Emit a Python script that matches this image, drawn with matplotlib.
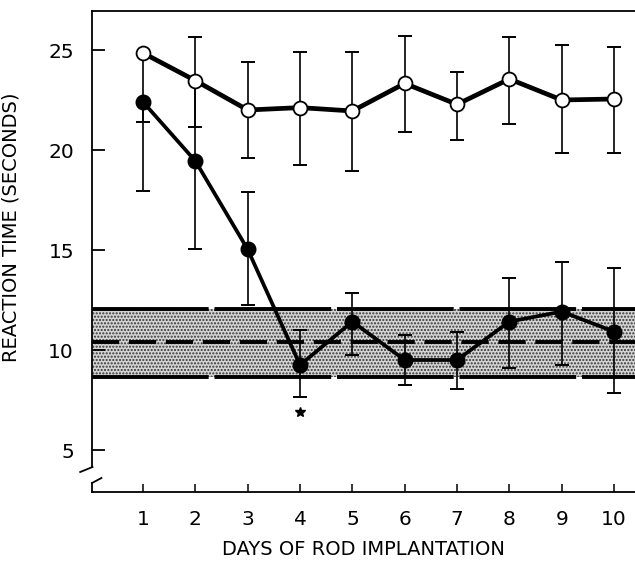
import numpy as np
import matplotlib
matplotlib.use('Agg')
import matplotlib.pyplot as plt

# data
days = [1, 2, 3, 4, 5, 6, 7, 8, 9, 10]

control_mean = [24.85, 23.47, 22.0, 22.12, 21.95, 23.33, 22.28, 23.55, 22.5, 22.55]
control_hi = [24.85, 25.67, 24.38, 24.92, 24.88, 25.72, 23.92, 25.67, 25.25, 25.13]
control_lo = [21.4, 21.17, 19.58, 19.25, 18.97, 20.88, 20.5, 21.3, 19.87, 19.87]

rod_mean = [22.4, 19.45, 15.03, 9.25, 11.42, 9.5, 9.5, 11.42, 11.92, 10.92]
rod_hi = [22.4, 23.4, 17.88, 11.0, 12.83, 10.75, 10.92, 13.58, 14.42, 14.12]
rod_lo = [17.95, 15.03, 12.25, 7.67, 9.75, 8.25, 8.03, 9.08, 9.25, 7.83]

# baseline band (mean and range)
band_lo = 8.67
band_mean = 10.38
band_hi = 12.03

star_day = 4
star_y = 6.9

plt.rcParams['font.family'] = ['DejaVu Sans']

fig = plt.figure(figsize=(6.35, 5.61), dpi=100)
ax = fig.add_axes([92/635, 69/561, 543/635, 481/561])

xmin, xmax = 0.025, 10.40
ymin, ymax = 2.9, 26.95
ax.set_xlim(xmin, xmax)
ax.set_ylim(ymin, ymax)

# stippled band
ax.fill_between([xmin, xmax], band_lo, band_hi, facecolor='#d4d4d4',
                edgecolor='#333333', hatch='.....', linewidth=0, zorder=1)
ax.axhline(band_hi, color='black', lw=2.8, dashes=(30, 1.5), zorder=2)
ax.axhline(band_lo, color='black', lw=2.8, dashes=(30, 1.5), zorder=2)
ax.axhline(band_mean, color='black', lw=2.8, dashes=(7, 2.5), zorder=2)

# error bars
c_err = [np.array(control_mean) - np.array(control_lo),
         np.array(control_hi) - np.array(control_mean)]
r_err = [np.array(rod_mean) - np.array(rod_lo),
         np.array(rod_hi) - np.array(rod_mean)]
ax.errorbar(days, rod_mean, yerr=r_err, fmt='none', ecolor='black',
            elinewidth=1.2, capsize=5, capthick=1.4, zorder=3)
ax.errorbar(days, control_mean, yerr=c_err, fmt='none', ecolor='black',
            elinewidth=1.2, capsize=5, capthick=1.4, zorder=3)

# lines + markers
ax.plot(days, rod_mean, color='black', lw=2.7, marker='o', markersize=10.5,
        markerfacecolor='black', markeredgecolor='black', zorder=4)
ax.plot(days, control_mean, color='black', lw=3.4, marker='o', markersize=10,
        markerfacecolor='white', markeredgecolor='black', markeredgewidth=1.3, zorder=5)

ax.plot([star_day], [star_y], marker='*', color='black', markersize=7,
        linestyle='none', zorder=5)

# axes styling
ax.spines['right'].set_visible(False)
ax.spines['left'].set_bounds(4.15, ymax)
for s in ['left', 'top', 'bottom']:
    ax.spines[s].set_linewidth(1.3)

ax.set_xticks(days)
ax.set_xticklabels([str(d) for d in days])
ax.set_yticks([5, 10, 15, 20, 25])
ax.tick_params(axis='y', direction='in', length=9, width=1.3, pad=13, labelsize=14.5)
ax.tick_params(axis='x', direction='in', length=6, width=1.1, pad=13, labelsize=14.5)

# axis break on the y axis
ax.plot([xmin, xmin], [ymin, 3.35], color='black', lw=1.3, clip_on=False)
ax.plot([-0.2, xmin + 0.01], [3.9, 4.15], color='black', lw=1.3, clip_on=False)
ax.plot([xmin, xmin + 0.18], [3.35, 3.6], color='black', lw=1.3, clip_on=False)

ax.set_xlabel('DAYS OF ROD IMPLANTATION', fontsize=14, labelpad=8)
ax.set_ylabel('REACTION TIME (SECONDS)', fontsize=14)
ax.yaxis.set_label_coords(-0.132, 0.55)

fig.savefig('out.png', dpi=100)
